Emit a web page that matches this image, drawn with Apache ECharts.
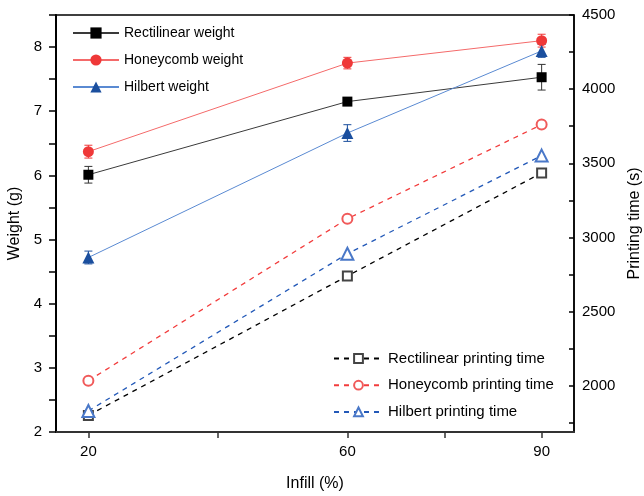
<!DOCTYPE html>
<html>
<head>
<meta charset="UTF-8">
<title>Weight and printing time vs infill</title>
<script src="https://cdn.jsdelivr.net/npm/echarts/dist/echarts.min.js"></script>
<style>
  html, body { margin: 0; padding: 0; background: #fff; }
  #chart { width: 644px; height: 496px; }
</style>
</head>
<body>
<div id="chart"></div>
<script>
// infill levels (%)
let infill = [20, 60, 90];

// weight (g) and its error
let rectWeight = [6.01, 7.15, 7.53];
let rectWeightErr = [0.13, 0.06, 0.2];
let honeyWeight = [6.37, 7.75, 8.1];
let honeyWeightErr = [0.1, 0.09, 0.1];
let hilbWeight = [4.72, 6.66, 7.94];
let hilbWeightErr = [0.1, 0.13, 0.1];

// printing time (s)
let rectTime = [1800, 2740, 3435];
let honeyTime = [2034, 3126, 3761];
let hilbTime = [1830, 2890, 3552];

// tick labels / tick positions
let xLabels = [20, 60, 90];
let xTicks = [20, 40, 60, 75, 90];
let leftLabels = [2, 3, 4, 5, 6, 7, 8];
let leftTicks = [2, 2.5, 3, 3.5, 4, 4.5, 5, 5.5, 6, 6.5, 7, 7.5, 8, 8.5];
let rightLabels = [2000, 2500, 3000, 3500, 4000, 4500];
let rightTicks = [1750, 2000, 2250, 2500, 2750, 3000, 3250, 3500, 3750, 4000, 4250, 4500];

function pairs(xs, ys) {
    return xs.map((x, i) => [x, ys[i]]);
}
function errData(xs, ys, es) {
    return xs.map((x, i) => [x, ys[i], es[i]]);
}

// error bar drawn with the axes' own coord
function errorBar(name, color, xs, ys, es) {
    return {
        name: name + ' err',
        type: 'custom',
        yAxisIndex: 0,
        data: errData(xs, ys, es),
        encode: { x: 0, y: 1 },
        z: 3,
        silent: true,
        renderItem: function (params, api) {
            let x = api.value(0), y = api.value(1), e = api.value(2);
            let hi = api.coord([x, y + e]);
            let lo = api.coord([x, y - e]);
            let w = 4;
            let st = { stroke: color, lineWidth: 1 };
            return {
                type: 'group',
                children: [
                    { type: 'line', shape: { x1: hi[0], y1: hi[1], x2: lo[0], y2: lo[1] }, style: st },
                    { type: 'line', shape: { x1: hi[0] - w, y1: hi[1], x2: hi[0] + w, y2: hi[1] }, style: st },
                    { type: 'line', shape: { x1: lo[0] - w, y1: lo[1], x2: lo[0] + w, y2: lo[1] }, style: st }
                ]
            };
        }
    };
}

let font = 'Arial, "Liberation Sans", sans-serif';

let chart = echarts.init(document.getElementById('chart'));
let option = {
    animation: false,
    textStyle: { fontFamily: font },
    grid: {
        left: 56, right: 70, top: 15, bottom: 64,
        outerBoundsMode: 'none',
        containLabel: false,
        show: true, borderColor: '#000', borderWidth: 1.5, backgroundColor: 'transparent'
    },
    legend: [
        {
            data: ['Rectilinear weight', 'Honeycomb weight', 'Hilbert weight'],
            orient: 'vertical',
            left: 67, top: 21,
            itemWidth: 46, itemHeight: 14, itemGap: 13,
            textStyle: { fontSize: 14, color: '#000', fontFamily: font }
        },
        {
            data: ['Rectilinear printing time', 'Honeycomb printing time', 'Hilbert printing time'],
            orient: 'vertical',
            left: 328, top: 346,
            itemWidth: 49, itemHeight: 11, itemGap: 11.7,
            textStyle: { fontSize: 15, color: '#000', fontFamily: font }
        }
    ],
    xAxis: {
        type: 'value',
        min: 15, max: 95,
        name: 'Infill (%)',
        nameLocation: 'middle',
        nameGap: 44,
        nameTextStyle: { fontSize: 16, color: '#000', fontFamily: font },
        axisLine: { show: true, lineStyle: { color: '#333', width: 2 } },
        axisTick: { show: true, length: 6, customValues: xTicks, lineStyle: { color: '#333', width: 1.5 } },
        axisLabel: { customValues: xLabels, fontSize: 15, color: '#000', margin: 12, fontFamily: font },
        splitLine: { show: false }
    },
    yAxis: [
        {
            type: 'value',
            min: 2, max: 8.5,
            name: 'Weight (g)',
            nameLocation: 'middle',
            nameGap: 26,
            nameRotate: 90,
            nameTextStyle: { fontSize: 16, color: '#000', fontFamily: font },
            axisLine: { show: true, lineStyle: { color: '#000', width: 2 } },
            axisTick: { show: true, length: 7, customValues: leftTicks, lineStyle: { color: '#000', width: 1.5 } },
            axisLabel: { customValues: leftLabels, fontSize: 15, color: '#000', margin: 14, fontFamily: font },
            splitLine: { show: false }
        },
        {
            type: 'value',
            position: 'right',
            min: 1688, max: 4500,
            name: 'Printing time (s)',
            nameLocation: 'middle',
            nameGap: 42,
            nameRotate: 90,
            nameTextStyle: { fontSize: 16, color: '#000', fontFamily: font },
            axisLine: { show: true, lineStyle: { color: '#000', width: 1.5 } },
            axisTick: { show: true, inside: true, length: 5, customValues: rightTicks, lineStyle: { color: '#000', width: 1.5 } },
            axisLabel: {
                customValues: rightLabels, fontSize: 15, color: '#000', margin: 8, fontFamily: font,
                formatter: function (v) { return String(v); }
            },
            splitLine: { show: false }
        }
    ],
    series: [
        {
            name: 'Rectilinear weight', type: 'line', yAxisIndex: 0,
            data: pairs(infill, rectWeight),
            symbol: 'rect', symbolSize: 10,
            lineStyle: { color: '#3a3a3a', width: 1 },
            itemStyle: { color: '#000' },
            z: 4
        },
        {
            name: 'Honeycomb weight', type: 'line', yAxisIndex: 0,
            data: pairs(infill, honeyWeight),
            symbol: 'circle', symbolSize: 11,
            lineStyle: { color: '#f46a6a', width: 1 },
            itemStyle: { color: '#ef3838' },
            z: 4
        },
        {
            name: 'Hilbert weight', type: 'line', yAxisIndex: 0,
            data: pairs(infill, hilbWeight),
            symbol: 'triangle', symbolSize: 12,
            lineStyle: { color: '#5a8ad2', width: 1 },
            itemStyle: { color: '#1b4f9e' },
            z: 4
        },
        errorBar('Rectilinear weight', '#333', infill, rectWeight, rectWeightErr),
        errorBar('Honeycomb weight', '#ef3838', infill, honeyWeight, honeyWeightErr),
        errorBar('Hilbert weight', '#1b4f9e', infill, hilbWeight, hilbWeightErr),
        {
            name: 'Rectilinear printing time', type: 'line', yAxisIndex: 1,
            data: pairs(infill, rectTime),
            symbol: 'emptyRect', symbolSize: 9,
            lineStyle: { color: '#000', width: 1.3, type: [5, 5] },
            itemStyle: { color: '#444', borderWidth: 1 }
        },
        {
            name: 'Honeycomb printing time', type: 'line', yAxisIndex: 1,
            data: pairs(infill, honeyTime),
            symbol: 'emptyCircle', symbolSize: 10,
            lineStyle: { color: '#f23c3c', width: 1.3, type: [5, 5] },
            itemStyle: { color: '#f05a5a', borderWidth: 1 }
        },
        {
            name: 'Hilbert printing time', type: 'line', yAxisIndex: 1,
            data: pairs(infill, hilbTime),
            symbol: 'emptyTriangle', symbolSize: 12,
            lineStyle: { color: '#2359b8', width: 1.3, type: [5, 5] },
            itemStyle: { color: '#4a78c8', borderWidth: 1 }
        }
    ]
};
chart.setOption(option);
</script>
</body>
</html>
